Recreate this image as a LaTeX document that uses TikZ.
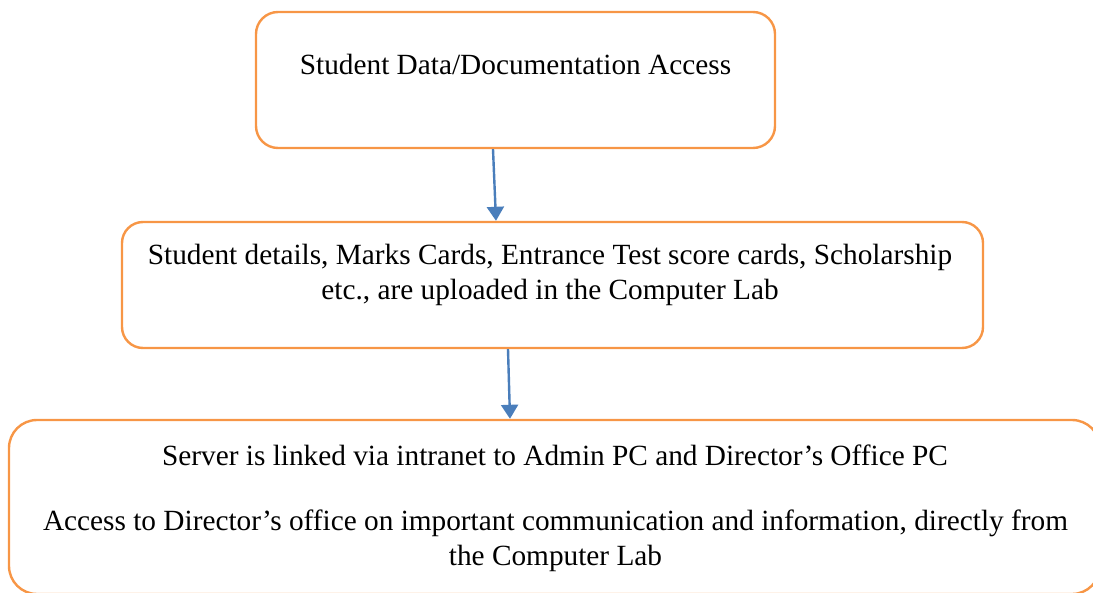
\documentclass[tikz,border=0pt]{standalone}
\usepackage{fontspec}
\setmainfont{Liberation Serif}
\usetikzlibrary{positioning,arrows.meta}
\definecolor{boxorange}{RGB}{247,150,70}
\definecolor{flowblue}{RGB}{74,126,187}
\tikzset{
  stagebox/.style={draw=boxorange,line width=1.2pt,rectangle,inner sep=0pt},
  stagetext/.style={anchor=base,align=center,inner sep=0pt,
    font=\fontsize{14.65}{17.5}\selectfont},
  flow/.style={draw=flowblue,line width=1.2pt,
    -{Triangle[length=7pt,width=8.5pt]}}
}

\begin{document}
\begin{tikzpicture}[x=0.5pt,y=-0.5pt]
  \useasboundingbox (0,0) rectangle (1093,593);

  % boxes
  \node[stagebox,rounded corners=11pt,minimum width=259.5pt,
    minimum height=68pt] (access) at (515.5,80) {};
  \node[stagebox,rounded corners=10.5pt,minimum width=430.5pt,
    minimum height=63pt] (details) at (552.5,285) {};
  \node[stagebox,rounded corners=14pt,minimum width=545.5pt,
    minimum height=87pt] (server) at (554.5,507) {};

  % texts (base = last line)
  \node[stagetext] (accesstext) at (515.5,75)
    {Student Data/Documentation Access};
  \node[stagetext] (detailstext) at (550,300)
    {Student details, Marks Cards, Entrance Test score cards, Scholarship\\
     etc., are uploaded in the Computer Lab};
  \node[stagetext] (servertext) at (555,466)
    {Server is linked via intranet to Admin PC and Director’s Office PC};
  \node[stagetext] (officetext) at (555.5,565)
    {Access to Director’s office on important communication and information, directly from\\
     the Computer Lab};

  % arrows
  \draw[flow] ([xshift=-11.25pt]access.south) -- ([xshift=-28.25pt]details.north);
  \draw[flow] ([xshift=-22.25pt]details.south) -- ([xshift=-22.25pt]server.north);
\end{tikzpicture}
\end{document}
